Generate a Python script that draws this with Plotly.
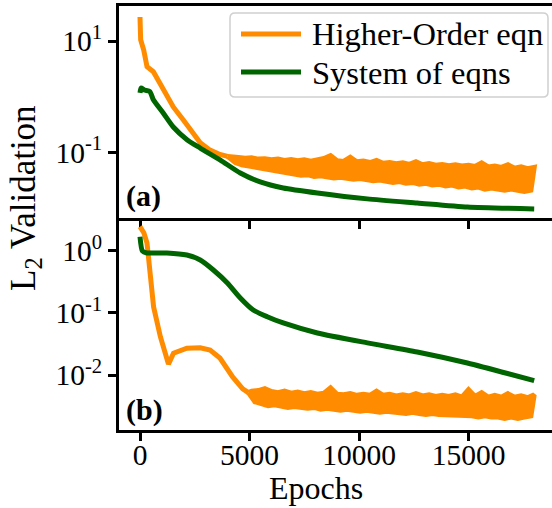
import plotly.graph_objects as go
from plotly.subplots import make_subplots

# ---------------- data ----------------
# Panel (a)
green_a_epochs = [0, 50, 200, 450, 610, 1060, 1520, 2160, 2750, 3670, 4580, 5490, 6540, 8100, 10380, 12660, 14950, 18000]
green_a_vals = [1.17, 1.43, 1.32, 1.24, 0.88, 0.51, 0.286, 0.168, 0.12, 0.073, 0.0428, 0.0296, 0.0231, 0.0188, 0.0147, 0.0124, 0.0105, 0.0097]

orange_a_epochs = [0, 30, 170, 320, 610, 1060, 1520, 1980, 2430, 2750, 3200, 3650, 4000]
orange_a_vals = [27, 10.5, 6.9, 3.46, 2.81, 1.32, 0.655, 0.383, 0.224, 0.15, 0.11, 0.092, 0.085]

# noisy band of panel (a): upper readings every 300 epochs from 4200, lower readings in between
orange_a_hi = [0.082, 0.081, 0.079, 0.080, 0.076, 0.077, 0.074, 0.076, 0.072, 0.075,
               0.071, 0.074, 0.070, 0.073, 0.078, 0.088, 0.071, 0.069, 0.082, 0.068,
               0.070, 0.066, 0.072, 0.064, 0.066, 0.063, 0.065, 0.061, 0.068, 0.060,
               0.063, 0.059, 0.061, 0.058, 0.060, 0.057, 0.059, 0.056, 0.065, 0.055,
               0.057, 0.054, 0.060, 0.052, 0.055, 0.051, 0.054]
orange_a_lo = [0.066, 0.060, 0.056, 0.053, 0.050, 0.048, 0.046, 0.045, 0.042, 0.041,
               0.039, 0.040, 0.037, 0.038, 0.036, 0.035, 0.036, 0.034, 0.033, 0.034,
               0.032, 0.031, 0.032, 0.030, 0.029, 0.030, 0.028, 0.029, 0.027, 0.028,
               0.026, 0.027, 0.025, 0.026, 0.024, 0.025, 0.023, 0.024, 0.022, 0.023,
               0.022, 0.021, 0.022, 0.021, 0.020, 0.021]
band_a_start = 4200

# Panel (b)
green_b_epochs = [0, 110, 320, 1230, 2140, 2750, 3350, 3990, 4580, 5170, 5810, 6540, 8100, 10380, 12660, 14950, 18000]
green_b_vals = [1.7, 1.0, 0.93, 0.93, 0.86, 0.716, 0.494, 0.305, 0.175, 0.112, 0.0871, 0.069, 0.0476, 0.033, 0.0235, 0.0156, 0.0081]

orange_b_epochs = [0, 180, 320, 470, 620, 930, 1230, 1300, 1530, 2140, 2750, 3200, 3650, 4230, 4690, 4950]
orange_b_vals = [2.47, 1.95, 1.35, 0.49, 0.126, 0.0415, 0.0175, 0.015, 0.0224, 0.027, 0.0275, 0.0253, 0.0188, 0.0093, 0.0060, 0.0052]

orange_b_hi = [0.0055, 0.0056, 0.0060, 0.0054, 0.0052, 0.0055, 0.0051, 0.0053, 0.0050, 0.0052,
               0.0049, 0.0051, 0.0062, 0.0049, 0.0048, 0.0050, 0.0047, 0.0049, 0.0047, 0.0055,
               0.0047, 0.0049, 0.0046, 0.0048, 0.0046, 0.0050, 0.0046, 0.0048, 0.0045, 0.0047,
               0.0045, 0.0048, 0.0044, 0.0058, 0.0045, 0.0052, 0.0044, 0.0047, 0.0044, 0.0050,
               0.0044, 0.0046, 0.0043, 0.0048]
orange_b_lo = [0.0037, 0.0034, 0.0032, 0.0033, 0.0031, 0.0030, 0.0031, 0.0030, 0.0029, 0.0030,
               0.0028, 0.0029, 0.0028, 0.0027, 0.0028, 0.0027, 0.0026, 0.0027, 0.0026, 0.0025,
               0.0026, 0.0025, 0.0025, 0.0024, 0.0025, 0.0024, 0.0023, 0.0024, 0.0023, 0.0023,
               0.0022, 0.0023, 0.0022, 0.0022, 0.0021, 0.0022, 0.0021, 0.0021, 0.0020, 0.0021,
               0.0020, 0.0021, 0.0022]
band_b_start = 5100
band_step = 300

series_names = ["Higher-Order eqn", "System of eqns"]
x_ticks = [0, 5000, 10000, 15000]
y_ticks_a = [10, 0.1]
y_ticks_a_text = ["10<sup>1</sup>", "10<sup>-1</sup>"]
y_ticks_b = [1, 0.1, 0.01]
y_ticks_b_text = ["10<sup>0</sup>", "10<sup>-1</sup>", "10<sup>-2</sup>"]


def band_polygon(smooth_e, smooth_v, start, hi, lo):
    hx = [start + k * band_step for k in range(len(hi))]
    lx = [start + band_step // 2 + k * band_step for k in range(len(lo))]
    xs = [smooth_e[-1]] + hx + lx[::-1] + [smooth_e[-1]]
    ys = [smooth_v[-1]] + list(hi) + list(lo)[::-1] + [smooth_v[-1]]
    return xs, ys


ba_x, ba_y = band_polygon(orange_a_epochs, orange_a_vals, band_a_start, orange_a_hi, orange_a_lo)
bb_x, bb_y = band_polygon(orange_b_epochs, orange_b_vals, band_b_start, orange_b_hi, orange_b_lo)

ORANGE = "#FF8C00"
GREEN = "#006400"
FONT = "'Liberation Serif', 'Times New Roman', Times, serif"
LW = 5

fig = make_subplots(rows=2, cols=1, shared_xaxes=False, vertical_spacing=0)

for (ex, vy, bx, by, ge, gv, r) in [
    (orange_a_epochs, orange_a_vals, ba_x, ba_y, green_a_epochs, green_a_vals, 1),
    (orange_b_epochs, orange_b_vals, bb_x, bb_y, green_b_epochs, green_b_vals, 2),
]:
    fig.add_trace(go.Scatter(x=ex, y=vy, mode="lines", line=dict(color=ORANGE, width=LW),
                             name=series_names[0], showlegend=False), row=r, col=1)
    fig.add_trace(go.Scatter(x=bx, y=by, mode="lines", fill="toself", fillcolor=ORANGE,
                             line=dict(color=ORANGE, width=LW), showlegend=False,
                             name=series_names[0]), row=r, col=1)
    fig.add_trace(go.Scatter(x=ge, y=gv, mode="lines", line=dict(color=GREEN, width=LW, shape="spline", smoothing=0.6),
                             name=series_names[1], showlegend=False), row=r, col=1)

xr = [-959, 18813]
axis_common = dict(showline=True, linecolor="black", linewidth=3, ticks="outside", ticklen=8,
                   tickwidth=3, tickcolor="black", showgrid=False, zeroline=False,
                   tickfont=dict(family=FONT, size=29.5, color="black"))

fig.update_xaxes(range=xr, tickvals=x_ticks, **axis_common)
fig.update_xaxes(showticklabels=False, mirror=True, row=1, col=1)
fig.update_xaxes(ticktext=[str(v) for v in x_ticks], mirror=False, ticklabelstandoff=-11, row=2, col=1)

fig.update_yaxes(type="log", mirror=False, **axis_common)
fig.update_yaxes(range=[-2.176, 1.628], tickvals=y_ticks_a, ticktext=y_ticks_a_text, row=1, col=1)
fig.update_yaxes(range=[-2.887, 0.532], tickvals=y_ticks_b, ticktext=y_ticks_b_text, row=2, col=1)

# pixel -> paper helpers (plot area: x 119..552, y 6..430)
def px(xp):
    return (xp - 119) / 433


def py(yp):
    return (430 - yp) / 424


shapes = [
    # legend frame (rounded)
    dict(type="path", xref="paper", yref="paper",
         path=(f"M {px(235)},{py(13)} L {px(543)},{py(13)} Q {px(548)},{py(13)} {px(548)},{py(18)} "
               f"L {px(548)},{py(92)} Q {px(548)},{py(97)} {px(543)},{py(97)} "
               f"L {px(235)},{py(97)} Q {px(230)},{py(97)} {px(230)},{py(92)} "
               f"L {px(230)},{py(18)} Q {px(230)},{py(13)} {px(235)},{py(13)} Z"),
         line=dict(color="#d0d0d0", width=1.5), fillcolor="rgba(255,255,255,0.8)", layer="above"),
    dict(type="line", xref="paper", yref="paper", x0=px(241), x1=px(301), y0=py(34), y1=py(34),
         line=dict(color=ORANGE, width=LW), layer="above"),
    dict(type="line", xref="paper", yref="paper", x0=px(241), x1=px(301), y0=py(72), y1=py(72),
         line=dict(color=GREEN, width=LW), layer="above"),
]

annotations = [
    dict(text=series_names[0], xref="paper", yref="paper", x=px(310), y=py(34),
         xanchor="left", yanchor="middle", showarrow=False, font=dict(family=FONT, size=32.5, color="black")),
    dict(text=series_names[1], xref="paper", yref="paper", x=px(310), y=py(73),
         xanchor="left", yanchor="middle", showarrow=False, font=dict(family=FONT, size=32.5, color="black")),
    dict(text="L<sub>2</sub> Validation", textangle=-90, xref="paper", yref="paper",
         x=px(25), y=py(198), xanchor="center", yanchor="middle",
         showarrow=False, font=dict(family=FONT, size=35, color="black")),
    dict(text="Epochs", xref="paper", yref="paper", x=px(316), y=py(488),
         xanchor="center", yanchor="middle", showarrow=False,
         font=dict(family=FONT, size=32, color="black")),
    dict(text="<b>(a)</b>", xref="paper", yref="paper", x=px(124), y=py(196),
         xanchor="left", yanchor="middle", showarrow=False,
         font=dict(family=FONT, size=30, color="black")),
    dict(text="<b>(b)</b>", xref="paper", yref="paper", x=px(124), y=py(410),
         xanchor="left", yanchor="middle", showarrow=False,
         font=dict(family=FONT, size=30, color="black")),
]

fig.update_layout(
    width=552, height=508,
    margin=dict(l=119, r=0, t=6, b=78),
    paper_bgcolor="white", plot_bgcolor="white",
    font=dict(family=FONT, color="black"),
    showlegend=False,
    shapes=shapes,
    annotations=annotations,
)

fig.write_html("out.html")
